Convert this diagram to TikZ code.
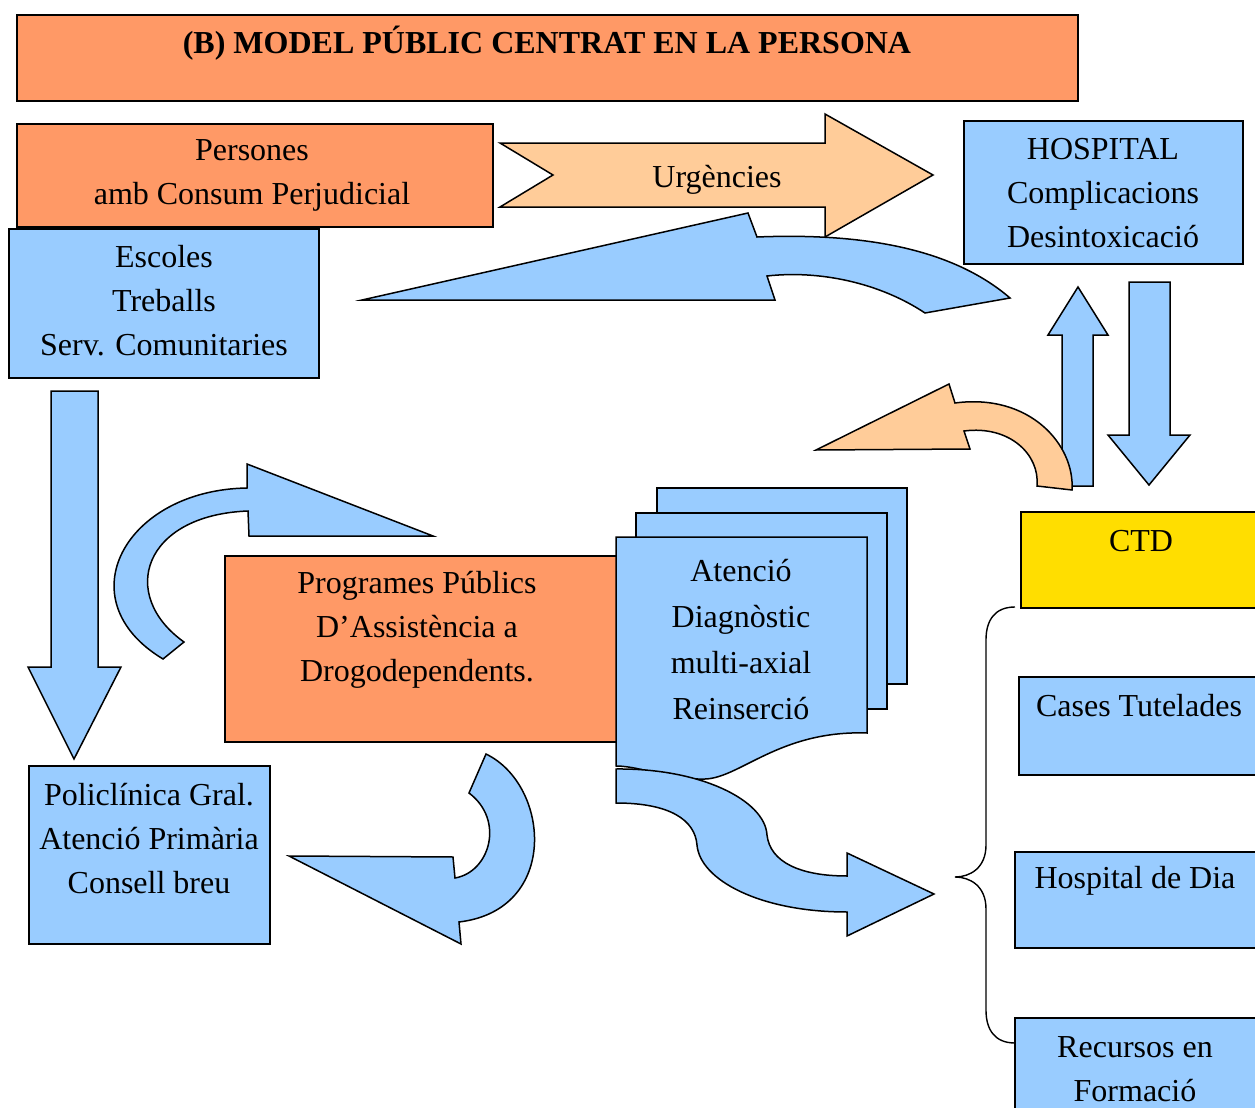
\documentclass[tikz,border=0pt]{standalone}
\usepackage{fontspec}
\setmainfont{Liberation Serif}
\usetikzlibrary{fit}
\definecolor{salmo}{HTML}{FF9966}
\definecolor{blau}{HTML}{99CCFF}
\definecolor{pressec}{HTML}{FFCC99}
\definecolor{groc}{HTML}{FFDE00}
\tikzset{
  caixa/.style={draw, line width=.9pt, inner sep=0pt},
  salmobox/.style={caixa, fill=salmo},
  bluebox/.style={caixa, fill=blau},
  txt/.style={align=center, inner sep=0pt, font=\fontsize{16}{22}\selectfont},
  fletxa/.style={draw, line width=.75pt, line join=miter}
}

\begin{document}
\begin{tikzpicture}[x=.5pt,y=-.5pt]
\useasboundingbox (0,0) rectangle (1255,1108);
\node[salmobox, fit={(17,15) (1078,101)}] (titol) {};
\node[txt, font=\bfseries\fontsize{16}{22}\selectfont] (titoltxt) at (547,43) {(B) MODEL PÚBLIC CENTRAT EN LA PERSONA};
\node[salmobox, fit={(17,124) (493,227)}] (pers) {};
\node[txt] (perstxt) at (252,175) {Persones\\amb Consum Perjudicial};
\node[bluebox, fit={(9,229) (319,378)}] (esc) {};
\node[txt] (esctxt) at (164,301) {Escoles\\Treballs\\Serv. Comunitaries};
\node[bluebox, fit={(964,121) (1243,264)}] (hosp) {};
\node[txt] (hosptxt) at (1103,193) {HOSPITAL\\Complicacions\\Desintoxicació};

\draw[fletxa, fill=pressec] (500,143) -- (825,143) -- (825,114) -- (933,175) -- (825,237) -- (825,207) -- (500,207) -- (553,175) -- cycle;
\node[txt] (urg) at (717,180) {Urgències};
\draw[fletxa, fill=blau] (362,300) -- (748,213) -- (757,237) .. controls (880,232) and (960,255) .. (1010,298) -- (925,313) .. controls (880,283) and (820,270) .. (767,276) -- (775,300) -- cycle;

\draw[fletxa, fill=blau] (1129,282) -- (1170,282) -- (1170,435) -- (1190,435) -- (1149,485) -- (1108,435) -- (1129,435) -- cycle;
\draw[fletxa, fill=blau] (1062,486) -- (1062,335) -- (1048,335) -- (1078,287) -- (1108,335) -- (1093,335) -- (1093,486) -- cycle;
\draw[fletxa, fill=pressec] (816,450) -- (949,384) -- (955,403) .. controls (1030,393) and (1075,445) .. (1072,490) -- (1037,486) .. controls (1040,455) and (1010,425) .. (964,431) -- (970,449) -- cycle;

\draw[fletxa, fill=blau] (51,391) -- (98,391) -- (98,667) -- (121,667) -- (74,759) -- (28,667) -- (51,667) -- cycle;
\draw[fletxa, fill=blau] (433,536) -- (247,464) -- (247,488) .. controls (125,490) and (65,600) .. (163,659) -- (184,642) .. controls (118,595) and (143,515) .. (248,511) -- (249,536) -- cycle;

\node[salmobox, fit={(225,556) (617,742)}] (prog) {};
\node[txt] (progtxt) at (417,630) {Programes Públics\\D’Assistència a\\Drogodependents.};
\draw[fletxa, fill=blau] (657,488) rectangle (907,684);
\draw[fletxa, fill=blau] (636,513) rectangle (887,709);
\draw[fletxa, fill=blau] (616,537) -- (867,537) -- (867,733) .. controls (780,730) and (740,778) .. (705,779) .. controls (670,780) and (640,766) .. (616,766) -- cycle;
\node[txt, font=\fontsize{16}{23}\selectfont] (atentxt) at (741,640) {Atenció\\Diagnòstic\\multi-axial\\Reinserció};

\draw[fletxa, fill=blau] (289,856) -- (453,857) -- (455,878) .. controls (490,872) and (505,820) .. (469,793) -- (486,754) .. controls (550,785) and (560,910) .. (459,922) -- (461,944) -- cycle;
\draw[fletxa, fill=blau] (616,769) .. controls (700,768) and (765,800) .. (767,835) .. controls (770,862) and (800,876) .. (847,876) -- (847,853) -- (934,894) -- (847,936) -- (847,912) .. controls (760,912) and (700,880) .. (697,845) .. controls (695,820) and (670,803) .. (616,803) -- cycle;

\node[bluebox, fit={(29,766) (270,944)}] (poli) {};
\node[txt] (politxt) at (149,839) {Policlínica Gral.\\Atenció Primària\\Consell breu};

\node[caixa, fill=groc, fit={(1021,512) (1262,608)}] (ctd) {};
\node[txt] (ctdtxt) at (1141,541) {CTD};
\node[bluebox, fit={(1019,677) (1262,775)}] (cases) {};
\node[txt] (casestxt) at (1139,706) {Cases Tutelades};
\node[bluebox, fit={(1015,852) (1262,948)}] (hdia) {};
\node[txt] (hdiatxt) at (1135,881) {Hospital de Dia};
\node[bluebox, fit={(1015,1018) (1262,1120)}] (recur) {};
\node[txt] (recurtxt) at (1135,1069) {Recursos en\\Formació};

\coordinate (clau1) at (1015,607); \coordinate (clau2) at (955,877); \coordinate (clau3) at (1015,1043);
\draw[line width=.7pt] (clau1) .. controls (995,607) and (986,620) .. (986,640) -- (986,845) .. controls (986,868) and (970,877) .. (clau2) .. controls (970,877) and (986,886) .. (986,909) -- (986,1010) .. controls (986,1030) and (995,1043) .. (clau3);
\end{tikzpicture}
\end{document}
